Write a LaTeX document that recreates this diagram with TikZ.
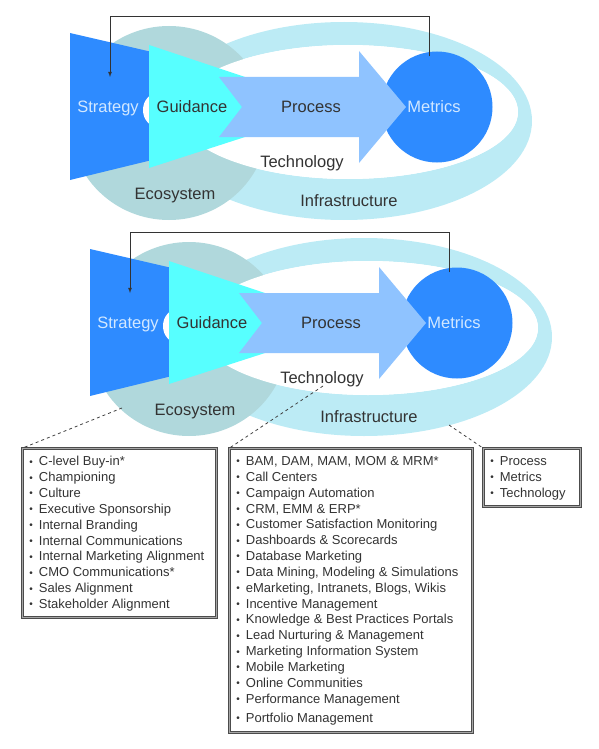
\documentclass[tikz,border=0pt]{standalone}
\usepackage{fontspec}
\setmainfont{Liberation Sans}
\usetikzlibrary{positioning}
\definecolor{stratblue}{HTML}{2E8BFF}
\definecolor{guidecyan}{HTML}{57FFFF}
\definecolor{procblue}{HTML}{8FC3FF}
\definecolor{ecoteal}{HTML}{B0D8DC}
\definecolor{infracyan}{HTML}{BCEBF5}
\definecolor{lighttxt}{HTML}{D2E8FF}
\definecolor{darktxt}{HTML}{333333}
\newcommand{\itemdot}{\makebox[9.5pt][l]{\raisebox{0.6pt}{\fontsize{10}{10}\selectfont\textbullet}}}

\begin{document}
\begin{tikzpicture}[x=1pt,y=1pt]
\tikzstyle{word}=[inner sep=0pt, text height=11.8pt, text depth=0pt, font=\fontsize{16.5}{20}\selectfont, text=darktxt]
\tikzstyle{lightword}=[word, text=lighttxt]
\tikzstyle{feedback}=[-latex, draw=black!80, line width=0.8pt]
\tikzstyle{link}=[dashed, draw=black!75, line width=0.8pt]
\tikzstyle{listbox}=[rectangle, anchor=north west, inner sep=0pt, draw=black!70, double=black!35, double distance=0.7pt, line width=0.9pt]
\tikzstyle{listtext}=[anchor=north west, align=left, inner sep=0pt, font=\fontsize{13}{15.85}\selectfont, text=darktxt]
	\useasboundingbox (0,0) rectangle (599,-749);
	% upper diagram
	\begin{scope}
	\fill[infracyan, even odd rule] (344,-121) ellipse [x radius=188, y radius=99] (348,-112) ellipse [x radius=170, y radius=67];
	\fill[ecoteal] (169,-123) ellipse [x radius=99, y radius=97];
	\fill[white] (348,-112) ellipse [x radius=170, y radius=67];
	\fill[stratblue] (70,-33) -- (152,-52) -- (152,-160) -- (70,-180) -- cycle;
	\fill[white] (158,-110) ellipse [x radius=15, y radius=17];
	\fill[guidecyan] (149,-45) -- (245,-77) -- (245,-137) -- (149,-168) -- cycle;
	\node[circle, fill=stratblue, minimum size=111pt, inner sep=0pt] (metr1) at (437,-107) { };
	\fill[procblue] (219,-77) -- (359,-77) -- (359,-51) -- (406,-107) -- (359,-163) -- (359,-137) -- (219,-137) -- (242,-107) -- cycle;
	\node[lightword] (strat1) at (108,-107) {Strategy};
	\node[word] (guide1) at (192,-107) {Guidance};
	\node[word] (proc1) at (311,-107) {Process};
	\node[lightword] (metrtxt1) at (434,-107) {Metrics};
	\node[word] (tech1) at (302,-162) {Technology};
	\node[word] (eco1) at (175,-194) {Ecosystem};
	\node[word] (infra1) at (349,-201) {Infrastructure};
	\coordinate (stratin1) at (110,-77);
	\draw[feedback] ([xshift=-8pt,yshift=-5pt]metr1.north) -- ++(0,40) -| (stratin1);
	\end{scope}
	% lower diagram
	\begin{scope}[shift={(20,-216)}]
	\fill[infracyan, even odd rule] (344,-121) ellipse [x radius=188, y radius=99] (348,-112) ellipse [x radius=170, y radius=67];
	\fill[ecoteal] (169,-123) ellipse [x radius=99, y radius=97];
	\fill[white] (348,-112) ellipse [x radius=170, y radius=67];
	\fill[stratblue] (70,-33) -- (152,-52) -- (152,-160) -- (70,-180) -- cycle;
	\fill[white] (158,-110) ellipse [x radius=15, y radius=17];
	\fill[guidecyan] (149,-45) -- (245,-77) -- (245,-137) -- (149,-168) -- cycle;
	\node[circle, fill=stratblue, minimum size=111pt, inner sep=0pt] (metr2) at (437,-107) { };
	\fill[procblue] (219,-77) -- (359,-77) -- (359,-51) -- (406,-107) -- (359,-163) -- (359,-137) -- (219,-137) -- (242,-107) -- cycle;
	\node[lightword] (strat2) at (108,-107) {Strategy};
	\node[word] (guide2) at (192,-107) {Guidance};
	\node[word] (proc2) at (311,-107) {Process};
	\node[lightword] (metrtxt2) at (434,-107) {Metrics};
	\node[word] (tech2) at (302,-162) {Technology};
	\node[word] (eco2) at (175,-194) {Ecosystem};
	\node[word] (infra2) at (349,-201) {Infrastructure};
	\coordinate (stratin2) at (110,-77);
	\draw[feedback] ([xshift=-8pt,yshift=-5pt]metr2.north) -- ++(0,40) -| (stratin2);
	\coordinate (ecolink) at (102,-192);
	\coordinate (techlink) at (303,-170);
	\coordinate (infralink) at (429,-209);
	\end{scope}
	% lists
	\node[listbox, minimum width=193.6pt, minimum height=168.6pt] (ecobox) at (22.2,-448.2) { };
	\node[listbox, minimum width=242.6pt, minimum height=283.6pt] (techbox) at (229.2,-448.2) { };
	\node[listbox, minimum width=96.6pt, minimum height=57.6pt] (infrabox) at (483.2,-448.2) { };
	\node[listtext] (ecotext) at ([xshift=7pt,yshift=-8pt]ecobox.north west) {\itemdot C-level Buy-in*\\ \itemdot Championing\\ \itemdot Culture\\ \itemdot Executive Sponsorship\\ \itemdot Internal Branding\\ \itemdot Internal Communications\\ \itemdot Internal Marketing Alignment\\ \itemdot CMO Communications*\\ \itemdot Sales Alignment\\ \itemdot Stakeholder Alignment};
	\node[listtext] (techtext) at ([xshift=7pt,yshift=-8pt]techbox.north west) {\itemdot BAM, DAM, MAM, MOM \& MRM*\\ \itemdot Call Centers\\ \itemdot Campaign Automation\\ \itemdot CRM, EMM \& ERP*\\ \itemdot Customer Satisfaction Monitoring\\ \itemdot Dashboards \& Scorecards\\ \itemdot Database Marketing\\ \itemdot Data Mining, Modeling \& Simulations\\ \itemdot eMarketing, Intranets, Blogs, Wikis\\ \itemdot Incentive Management\\ \itemdot Knowledge \& Best Practices Portals\\ \itemdot Lead Nurturing \& Management\\ \itemdot Marketing Information System\\ \itemdot Mobile Marketing\\ \itemdot Online Communities\\ \itemdot Performance Management\\[3pt] \itemdot Portfolio Management};
	\node[listtext] (infratext) at ([xshift=7pt,yshift=-8pt]infrabox.north west) {\itemdot Process\\ \itemdot Metrics\\ \itemdot Technology};
	\draw[link] (ecolink) -- (ecobox.north west);
	\draw[link] (techlink) -- (techbox.north west);
	\draw[link] (infralink) -- (infrabox.north west);
\end{tikzpicture}
\end{document}
